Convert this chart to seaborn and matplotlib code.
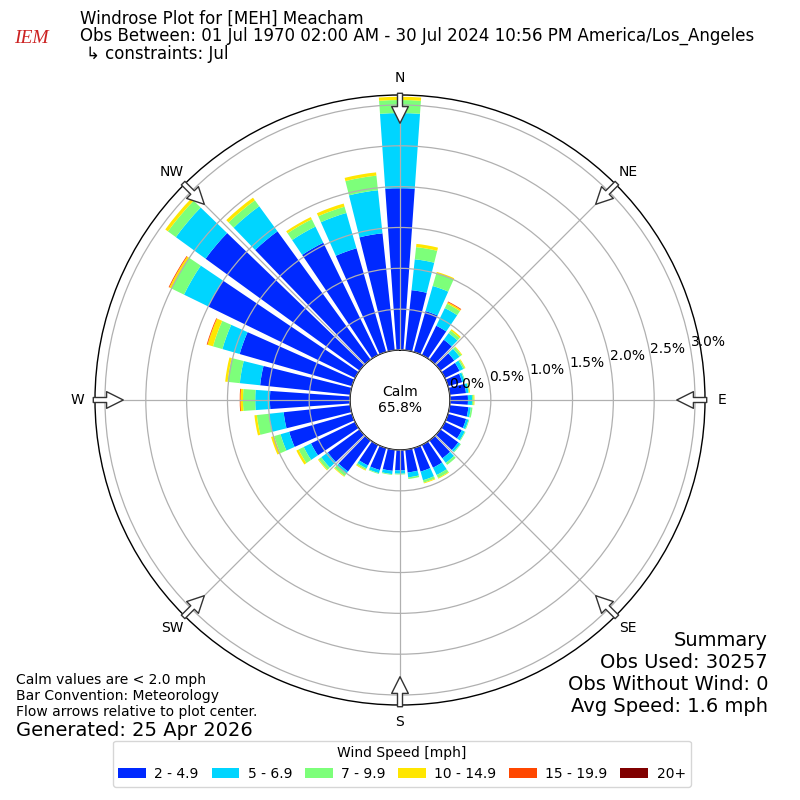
import matplotlib
matplotlib.use("Agg")
import matplotlib.pyplot as plt
import seaborn as sns
import numpy as np
import pandas as pd

# ----------------------------------------
# data (percent of all obs, per 10 degree bin)
# ----------------------------------------
directions = np.arange(0, 360, 10)
speed_bins = ["2 - 4.9", "5 - 6.9", "7 - 9.9", "10 - 14.9", "15 - 19.9", "20+"]

pct_2_5 = [1.98, 0.74, 0.52, 0.40, 0.30, 0.21, 0.20, 0.18, 0.20, 0.22, 0.23, 0.23,
           0.23, 0.27, 0.27, 0.31, 0.30, 0.28, 0.25, 0.26, 0.28, 0.28, 0.47, 0.48,
           0.60, 0.80, 0.82, 0.98, 1.11, 1.43, 2.00, 2.33, 1.94, 1.53, 1.32, 1.44]
pct_5_7 = [0.92, 0.38, 0.32, 0.24, 0.10, 0.08, 0.05, 0.03, 0.03, 0.05, 0.03, 0.03,
           0.04, 0.03, 0.07, 0.10, 0.11, 0.06, 0.04, 0.04, 0.04, 0.04, 0.03, 0.10,
           0.10, 0.11, 0.18, 0.18, 0.25, 0.22, 0.33, 0.45, 0.38, 0.22, 0.45, 0.53]
pct_7_10 = [0.16, 0.15, 0.16, 0.06, 0.04, 0.03, 0.02, 0.01, 0.01, 0.02, 0.02, 0.01,
            0.01, 0.01, 0.03, 0.04, 0.03, 0.02, 0.01, 0.01, 0.01, 0.02, 0.04, 0.04,
            0.07, 0.08, 0.15, 0.15, 0.15, 0.12, 0.17, 0.12, 0.09, 0.10, 0.08, 0.18]
pct_10_15 = [0.04, 0.04, 0.02, 0.02, 0.02, 0.01, 0.01, 0.00, 0.01, 0.01, 0.00, 0.00,
             0.00, 0.00, 0.00, 0.01, 0.01, 0.00, 0.00, 0.00, 0.00, 0.01, 0.01, 0.01,
             0.03, 0.04, 0.03, 0.03, 0.03, 0.07, 0.03, 0.04, 0.04, 0.03, 0.04, 0.04]
pct_15_20 = [0.00, 0.00, 0.00, 0.01, 0.00, 0.00, 0.00, 0.00, 0.00, 0.00, 0.00, 0.00,
             0.00, 0.00, 0.00, 0.00, 0.00, 0.00, 0.00, 0.00, 0.00, 0.00, 0.00, 0.00,
             0.00, 0.00, 0.00, 0.01, 0.00, 0.01, 0.01, 0.00, 0.00, 0.00, 0.00, 0.00]
pct_20 = [0.0] * 36

calm_pct = 65.8
rticks = [0.0, 0.5, 1.0, 1.5, 2.0, 2.5, 3.0]
compass = ["N", "NE", "E", "SE", "S", "SW", "W", "NW"]
compass_deg = [0, 45, 90, 135, 180, 225, 270, 315]

df = pd.DataFrame({"dir": directions, speed_bins[0]: pct_2_5, speed_bins[1]: pct_5_7,
                   speed_bins[2]: pct_7_10, speed_bins[3]: pct_10_15,
                   speed_bins[4]: pct_15_20, speed_bins[5]: pct_20})

sns.set_style("white")
plt.rcParams["font.family"] = ["DejaVu Sans"]
for key in ["text.color", "axes.edgecolor", "axes.labelcolor", "xtick.color", "ytick.color"]:
    plt.rcParams[key] = "black"
colors = plt.get_cmap("jet")(np.arange(1, 7) / 6.0)

fig = plt.figure(figsize=(8, 8), dpi=100)
ax = fig.add_axes([0.11875, 0.11875, 0.7625, 0.7625], projection="polar")
ax.set_theta_zero_location("N")
ax.set_theta_direction(-1)

# ----------------------------------------
# stacked bars
# ----------------------------------------
theta = np.deg2rad(df["dir"].values)
width = np.deg2rad(8.0)
bottom = np.zeros(len(df))
for col, c in zip(speed_bins, colors):
    ax.bar(theta, df[col].values, width=width, bottom=bottom, color=c,
           edgecolor="none", label=col, zorder=2)
    bottom = bottom + df[col].values

ax.set_ylim(0, 3.122)
ax.set_rorigin(-0.612)
ax.set_axisbelow(False)
ax.grid(True, color="#b0b0b0", linewidth=0.9, zorder=3)
ax.set_yticks(rticks)
ax.set_yticklabels(["%.1f%%" % v for v in rticks], fontsize=10)
ax.set_rlabel_position(80)
ax.set_xticks(np.deg2rad(compass_deg))
ax.set_xticklabels(compass, fontsize=10)
ax.tick_params(axis="x", pad=2)
ax.spines["polar"].set_linewidth(1.0)
ax.spines["polar"].set_edgecolor("black")
ax.spines["inner"].set_visible(True)
ax.spines["inner"].set_linewidth(1.0)
ax.spines["inner"].set_edgecolor("black")

ax.text(0.5, 0.5, "Calm\n%.1f%%" % calm_pct, transform=ax.transAxes,
        ha="center", va="center", fontsize=10, zorder=5)

# flow arrows pointing to plot centre
for d in compass_deg:
    t = np.deg2rad(d)
    ax.annotate("", xy=(t, 2.776), xytext=(t, 3.143), annotation_clip=False,
                arrowprops=dict(width=3.6, headwidth=12, headlength=12, shrink=0,
                                facecolor="white", edgecolor="#333333", lw=1.0),
                zorder=6)

# ----------------------------------------
# titles and notes
# ----------------------------------------
fig.text(0.1, 0.976, "Windrose Plot for [MEH] Meacham", fontsize=12, va="center")
fig.text(0.1, 0.955, "Obs Between: 01 Jul 1970 02:00 AM - 30 Jul 2024 10:56 PM "
         "America/Los_Angeles", fontsize=12, va="center")
fig.text(0.107, 0.932, "\u21b3 constraints: Jul", fontsize=12, va="center")
fig.text(0.018, 0.952, "IEM", fontsize=14, color="#cc2222", style="italic",
         family="Liberation Serif", va="center")

fig.text(0.02, 0.15, "Calm values are < 2.0 mph", fontsize=10, va="center")
fig.text(0.02, 0.13, "Bar Convention: Meteorology", fontsize=10, va="center")
fig.text(0.02, 0.11, "Flow arrows relative to plot center.", fontsize=10, va="center")
fig.text(0.02, 0.0875, "Generated: 25 Apr 2026", fontsize=14, va="center")

summary = ["Summary", "Obs Used: 30257", "Obs Without Wind: 0", "Avg Speed: 1.6 mph"]
for i, s in enumerate(summary):
    fig.text(0.96, 0.2 - i * 0.0275, s, fontsize=14, ha="right", va="center")

handles, labels = ax.get_legend_handles_labels()
fig.legend(handles, labels, loc="lower center", bbox_to_anchor=(0.5025, 0.008),
           ncol=6, fontsize=10, title="Wind Speed [mph]", title_fontsize=10,
           handletextpad=0.6, columnspacing=0.92,
           frameon=True, edgecolor="#cccccc")

fig.savefig("out.png", dpi=100)
plt.close(fig)
